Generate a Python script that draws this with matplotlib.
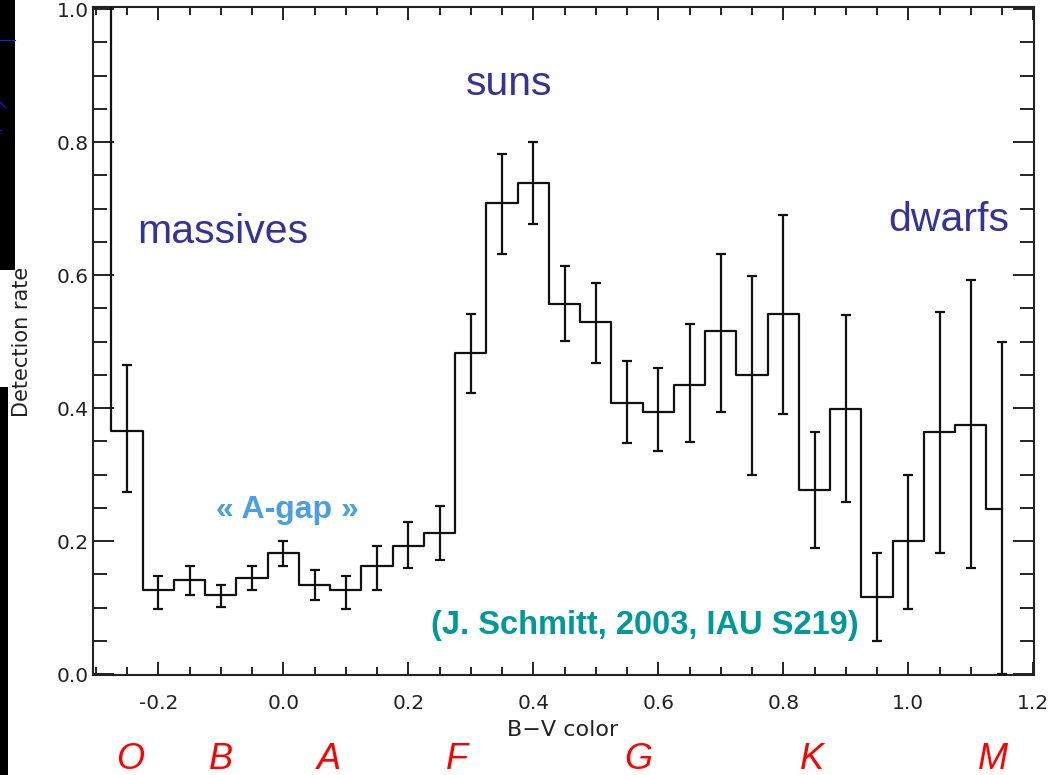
import numpy as np
import matplotlib
matplotlib.use("Agg")
import matplotlib.pyplot as plt
from matplotlib.patches import Rectangle
from matplotlib.lines import Line2D
from matplotlib.ticker import MultipleLocator, FormatStrFormatter
from matplotlib.transforms import blended_transform_factory

# ---------------- data ----------------
bv_color = [-0.30, -0.25, -0.20, -0.15, -0.10, -0.05, 0.00, 0.05, 0.10, 0.15,
            0.20, 0.25, 0.30, 0.35, 0.40, 0.45, 0.50, 0.55, 0.60, 0.65,
            0.70, 0.75, 0.80, 0.85, 0.90, 0.95, 1.00, 1.05, 1.10, 1.15]
detection_rate = [1.05, 0.365, 0.126, 0.142, 0.119, 0.145, 0.182, 0.134, 0.126, 0.163,
                  0.192, 0.212, 0.482, 0.709, 0.739, 0.556, 0.530, 0.408, 0.394, 0.435,
                  0.516, 0.449, 0.541, 0.277, 0.398, 0.116, 0.200, 0.364, 0.375, 0.248]
rate_low = [np.nan, 0.273, 0.098, 0.119, 0.101, 0.126, 0.163, 0.112, 0.098, 0.126,
            0.160, 0.171, 0.423, 0.632, 0.676, 0.501, 0.467, 0.347, 0.335, 0.349,
            0.394, 0.299, 0.391, 0.189, 0.259, 0.050, 0.098, 0.182, 0.160, 0.0]
rate_high = [np.nan, 0.465, 0.148, 0.163, 0.134, 0.163, 0.200, 0.156, 0.148, 0.192,
             0.229, 0.252, 0.541, 0.782, 0.800, 0.614, 0.588, 0.471, 0.460, 0.526,
             0.632, 0.599, 0.690, 0.364, 0.540, 0.182, 0.299, 0.544, 0.592, 0.500]

spectral_types = ["O", "B", "A", "F", "G", "K", "M"]
spectral_bv = [-0.245, -0.100, 0.073, 0.278, 0.568, 0.845, 1.136]

x_label = "B\u2212V color"
y_label = "Detection rate"

# ---------------- figure ----------------
W, H = 1063, 775
fig = plt.figure(figsize=(W / 100, H / 100), dpi=100)
fig.patch.set_facecolor("white")

# dark strips of the slide background at the left edge
fig.patches.append(Rectangle((0, 1 - 270 / H), 15 / W, 270 / H, transform=fig.transFigure,
                             facecolor="black", edgecolor="none", zorder=0))
fig.patches.append(Rectangle((0, 0), 8 / W, (H - 387) / H, transform=fig.transFigure,
                             facecolor="black", edgecolor="none", zorder=0))
for (x0, y0, x1, y1) in [(0, 40, 15, 40), (0, 102, 6, 108), (0, 130, 2, 131)]:
    fig.lines.append(Line2D([x0 / W, x1 / W], [1 - y0 / H, 1 - y1 / H],
                            transform=fig.transFigure, color="#1a1aff", lw=0.8))

ax_l, ax_r, ax_t, ax_b = 93.3, 1034, 6.7, 675
ax = fig.add_axes([ax_l / W, 1 - ax_b / H, (ax_r - ax_l) / W, (ax_b - ax_t) / H])

x = np.array(bv_color)
y = np.array(detection_rate)
lo = np.array(rate_low)
hi = np.array(rate_high)

ax.step(x, y, where="mid", color="#111111", lw=1.6, zorder=3)
ax.errorbar(x, y, yerr=[y - lo, hi - y], fmt="none", ecolor="#111111",
            elinewidth=1.6, capsize=3.6, capthick=1.6, zorder=3)

ax.set_xlim(-0.304, 1.201)
ax.set_ylim(-0.0015, 1.0035)

ax.xaxis.set_major_locator(MultipleLocator(0.2))
ax.xaxis.set_minor_locator(MultipleLocator(0.05))
ax.yaxis.set_major_locator(MultipleLocator(0.2))
ax.yaxis.set_minor_locator(MultipleLocator(0.05))
ax.xaxis.set_major_formatter(FormatStrFormatter("%.1f"))
ax.yaxis.set_major_formatter(FormatStrFormatter("%.1f"))

tick_col = "#222222"
ax.tick_params(axis="both", which="both", direction="in", top=True, right=True,
               color=tick_col, width=1.4, labelcolor=tick_col, labelsize=14.5)
ax.tick_params(axis="x", which="major", length=9.5, pad=14)
ax.tick_params(axis="x", which="minor", length=6)
ax.tick_params(axis="y", which="major", length=15, pad=3.5)
ax.tick_params(axis="y", which="minor", length=10)
for sp in ax.spines.values():
    sp.set_linewidth(1.5)
    sp.set_color(tick_col)

fig.text(563 / W, 1 - 730 / H, x_label, ha="center", va="center",
         fontsize=16, color=tick_col)
fig.text(22 / W, 1 - 342 / H, y_label, ha="center", va="center", rotation=90,
         fontsize=15, color=tick_col)

# annotations
sans = "Liberation Sans"
navy = "#333399"
ax.text(-0.0965, 0.648, "massives", ha="center", va="baseline", fontsize=29.5,
        color=navy, family=sans)
ax.text(0.361, 0.871, "suns", ha="center", va="baseline", fontsize=29.5,
        color=navy, family=sans)
ax.text(1.064, 0.666, "dwarfs", ha="center", va="baseline", fontsize=29.5,
        color=navy, family=sans)
ax.text(0.006, 0.235, "\u00ab A-gap \u00bb", ha="center", va="baseline", fontsize=23,
        color="#4a9fe0", family=sans, fontweight="bold")
ax.text(0.579, 0.060, "(J. Schmitt, 2003, IAU S219)", ha="center", va="baseline",
        fontsize=23.5, color="#009999", family=sans, fontweight="bold")

trans = blended_transform_factory(ax.transData, fig.transFigure)
for letter, pos in zip(spectral_types, spectral_bv):
    ax.text(pos, 1 - 769 / H, letter, transform=trans, ha="center", va="baseline",
            fontsize=26, color="#ff0000", family=sans, style="italic", clip_on=False)

fig.savefig("out.png", dpi=100)
